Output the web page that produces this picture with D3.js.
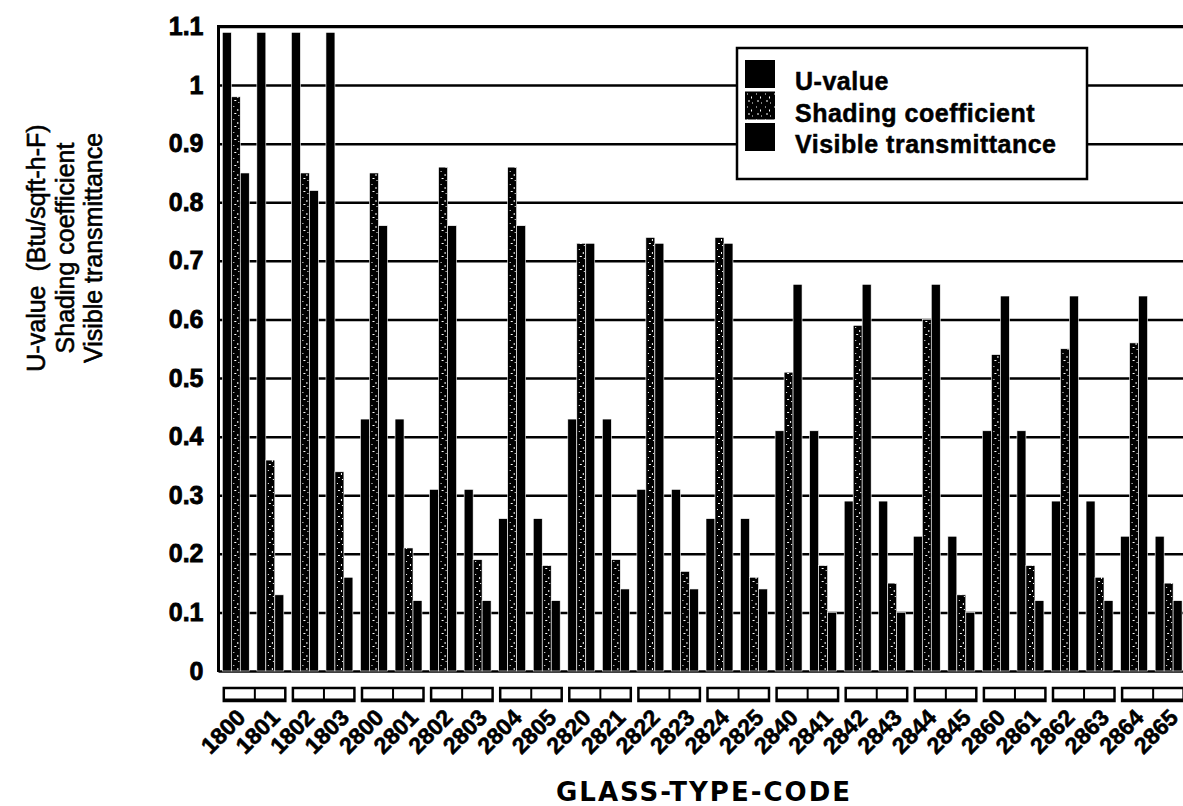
<!DOCTYPE html>
<html>
<head>
<meta charset="utf-8">
<script src="https://cdn.jsdelivr.net/npm/d3@7"></script>
<style>
  html, body { margin: 0; padding: 0; background: #fff; }
  svg { display: block; }
</style>
</head>
<body>
<svg id="chart" width="1183" height="806"></svg>
<script>
// Glass type codes along the x axis
const categories = [
  "1800", "1801", "1802", "1803",
  "2800", "2801", "2802", "2803", "2804", "2805",
  "2820", "2821", "2822", "2823", "2824", "2825",
  "2840", "2841", "2842", "2843", "2844", "2845",
  "2860", "2861", "2862", "2863", "2864", "2865"
];

// U-value (Btu/sqft-h-F)
const uValue = [
  1.09, 1.09, 1.09, 1.09,
  0.43, 0.43, 0.31, 0.31, 0.26, 0.26,
  0.43, 0.43, 0.31, 0.31, 0.26, 0.26,
  0.41, 0.41, 0.29, 0.29, 0.23, 0.23,
  0.41, 0.41, 0.29, 0.29, 0.23, 0.23
];

// Shading coefficient
const shadingCoef = [
  0.98, 0.36, 0.85, 0.34,
  0.85, 0.21, 0.86, 0.19, 0.86, 0.18,
  0.73, 0.19, 0.74, 0.17, 0.74, 0.16,
  0.51, 0.18, 0.59, 0.15, 0.60, 0.13,
  0.54, 0.18, 0.55, 0.16, 0.56, 0.15
];

// Visible transmittance
const visibleTrans = [
  0.85, 0.13, 0.82, 0.16,
  0.76, 0.12, 0.76, 0.12, 0.76, 0.12,
  0.73, 0.14, 0.73, 0.14, 0.73, 0.14,
  0.66, 0.10, 0.66, 0.10, 0.66, 0.10,
  0.64, 0.12, 0.64, 0.12, 0.64, 0.12
];

const seriesNames = ["U-value", "Shading coefficient", "Visible transmittance"];
const yTicks = [0, 0.1, 0.2, 0.3, 0.4, 0.5, 0.6, 0.7, 0.8, 0.9, 1, 1.1];
const yTickLabels = ["0", "0.1", "0.2", "0.3", "0.4", "0.5", "0.6", "0.7", "0.8", "0.9", "1", "1.1"];
const yTitleLines = ["U-value  (Btu/sqft-h-F)", "Shading coefficient", "Visible transmittance"];
const xTitle = "GLASS-TYPE-CODE";

const seriesValues = [uValue, shadingCoef, visibleTrans];

const svg = d3.select("#chart");
const W = 1183, H = 806;

const plotLeft = 218.5, plotTop = 26.5, plotBottom = 671;
const step = 34.55;
const plotRight = plotLeft + categories.length * step;

const x0 = d3.scaleBand()
  .domain(categories)
  .range([plotLeft, plotRight])
  .paddingInner(0.22)
  .paddingOuter(0.11);

const x1 = d3.scaleBand()
  .domain(seriesNames)
  .range([0, x0.bandwidth()]);

const y = d3.scaleLinear().domain([0, 1.1]).range([plotBottom, plotTop]);

// Speckled fill for the shading coefficient series
const defs = svg.append("defs");
const pat = defs.append("pattern")
  .attr("id", "speckle")
  .attr("patternUnits", "userSpaceOnUse")
  .attr("width", 9).attr("height", 13);
pat.append("rect").attr("width", 9).attr("height", 13).attr("fill", "#000");
[[2, 2, 1, 1], [6, 5, 1, 2], [3, 9, 2, 1], [7, 11, 1, 1]].forEach(d => {
  pat.append("rect").attr("x", d[0]).attr("y", d[1]).attr("width", d[2]).attr("height", d[3]).attr("fill", "#fff");
});

const fills = ["#000", "url(#speckle)", "#000"];

// Gridlines and tick labels
const yAxis = d3.axisLeft(y)
  .tickValues(yTicks)
  .tickSize(-(W - plotLeft + 5))
  .tickPadding(16)
  .tickFormat((d, i) => yTickLabels[i]);

const gy = svg.append("g")
  .attr("transform", `translate(${plotLeft},0)`)
  .call(yAxis);
gy.select(".domain").remove();
gy.selectAll(".tick line")
  .attr("stroke", "#000")
  .attr("stroke-width", 2.5);
gy.selectAll(".tick text")
  .attr("x", -15)
  .attr("font-family", "'Liberation Sans', Arial, sans-serif")
  .attr("font-weight", "bold")
  .attr("font-size", 25)
  .attr("fill", "#000")
  .attr("stroke", "#000")
  .attr("stroke-width", 0.8);

// Bars
const groups = svg.append("g").selectAll("g")
  .data(categories)
  .join("g")
  .attr("transform", d => `translate(${x0(d)},0)`);

groups.selectAll("rect")
  .data((c, i) => seriesNames.map((s, k) => ({ s, k, v: seriesValues[k][i] })))
  .join("rect")
  .attr("x", d => x1(d.s))
  .attr("width", x1.bandwidth())
  .attr("y", d => y(d.v))
  .attr("height", d => y(0) - y(d.v))
  .attr("fill", d => fills[d.k])
  .attr("stroke", "#fff")
  .attr("stroke-width", 0.6);

// Plot frame (top and left edges)
svg.append("path")
  .attr("d", `M${plotLeft},${plotBottom + 1} V${plotTop} H${W + 5}`)
  .attr("fill", "none")
  .attr("stroke", "#000")
  .attr("stroke-width", 3);

// Bracket boxes grouping the category codes in pairs
const pairs = d3.range(categories.length / 2);
const boxes = svg.append("g").selectAll("g")
  .data(pairs)
  .join("g");
boxes.append("rect")
  .attr("x", i => x0(categories[2 * i]) + 1.5)
  .attr("y", 688)
  .attr("width", i => x0(categories[2 * i + 1]) + x0.bandwidth() - x0(categories[2 * i]))
  .attr("height", 13)
  .attr("fill", "#fff")
  .attr("stroke", "#000")
  .attr("stroke-width", 2.5);
boxes.append("line")
  .attr("x1", i => x0(categories[2 * i]) + 1.5)
  .attr("x2", i => x0(categories[2 * i + 1]) + x0.bandwidth() + 1.5)
  .attr("y1", 700).attr("y2", 700)
  .attr("stroke", "#000")
  .attr("stroke-width", 3);
boxes.append("line")
  .attr("x1", i => x0(categories[2 * i + 1]) - 2)
  .attr("x2", i => x0(categories[2 * i + 1]) - 2)
  .attr("y1", 688).attr("y2", 701)
  .attr("stroke", "#000")
  .attr("stroke-width", 2);

// Rotated category labels
svg.append("g").selectAll("text")
  .data(categories)
  .join("text")
  .attr("transform", d => `translate(${x0(d) + x0.bandwidth() / 2 + 11},719) rotate(-45)`)
  .attr("text-anchor", "end")
  .attr("font-family", "'Liberation Sans', Arial, sans-serif")
  .attr("font-weight", "bold")
  .attr("font-size", 23)
  .attr("fill", "#000")
  .attr("stroke", "#000")
  .attr("stroke-width", 0.6)
  .text(d => d);

// X-axis title
svg.append("text")
  .attr("x", 704)
  .attr("y", 801)
  .attr("text-anchor", "middle")
  .attr("font-family", "'DejaVu Sans', sans-serif")
  .attr("font-weight", "bold")
  .attr("font-size", 26)
  .attr("letter-spacing", 2)
  .attr("fill", "#000")
  .text(xTitle);

// Y-axis title (three rotated lines)
const yTitle = svg.append("g")
  .attr("transform", "translate(0,248)");
yTitle.selectAll("text")
  .data(yTitleLines)
  .join("text")
  .attr("transform", (d, i) => `translate(${45 + i * 28.5},0) rotate(-90)`)
  .attr("text-anchor", "middle")
  .attr("font-family", "'Liberation Sans', Arial, sans-serif")
  .attr("font-size", 25)
  .attr("fill", "#000")
  .attr("stroke", "#000")
  .attr("stroke-width", 0.6)
  .attr("xml:space", "preserve")
  .style("white-space", "pre")
  .text(d => d);

// Legend
const legend = svg.append("g").attr("transform", "translate(737,48)");
legend.append("rect")
  .attr("width", 350)
  .attr("height", 131)
  .attr("fill", "#fff")
  .attr("stroke", "#000")
  .attr("stroke-width", 2.5);
const items = legend.selectAll("g.item")
  .data(seriesNames)
  .join("g")
  .attr("class", "item")
  .attr("transform", (d, i) => `translate(8,${12 + i * 31.5})`);
items.append("rect")
  .attr("width", 30)
  .attr("height", 28)
  .attr("fill", (d, i) => fills[i]);
items.append("text")
  .attr("x", 50)
  .attr("y", 30)
  .attr("font-family", "'Liberation Sans', Arial, sans-serif")
  .attr("font-weight", "bold")
  .attr("font-size", 25)
  .attr("letter-spacing", 0.5)
  .attr("fill", "#000")
  .attr("stroke", "#000")
  .attr("stroke-width", 0.5)
  .text(d => d);
</script>
</body>
</html>
